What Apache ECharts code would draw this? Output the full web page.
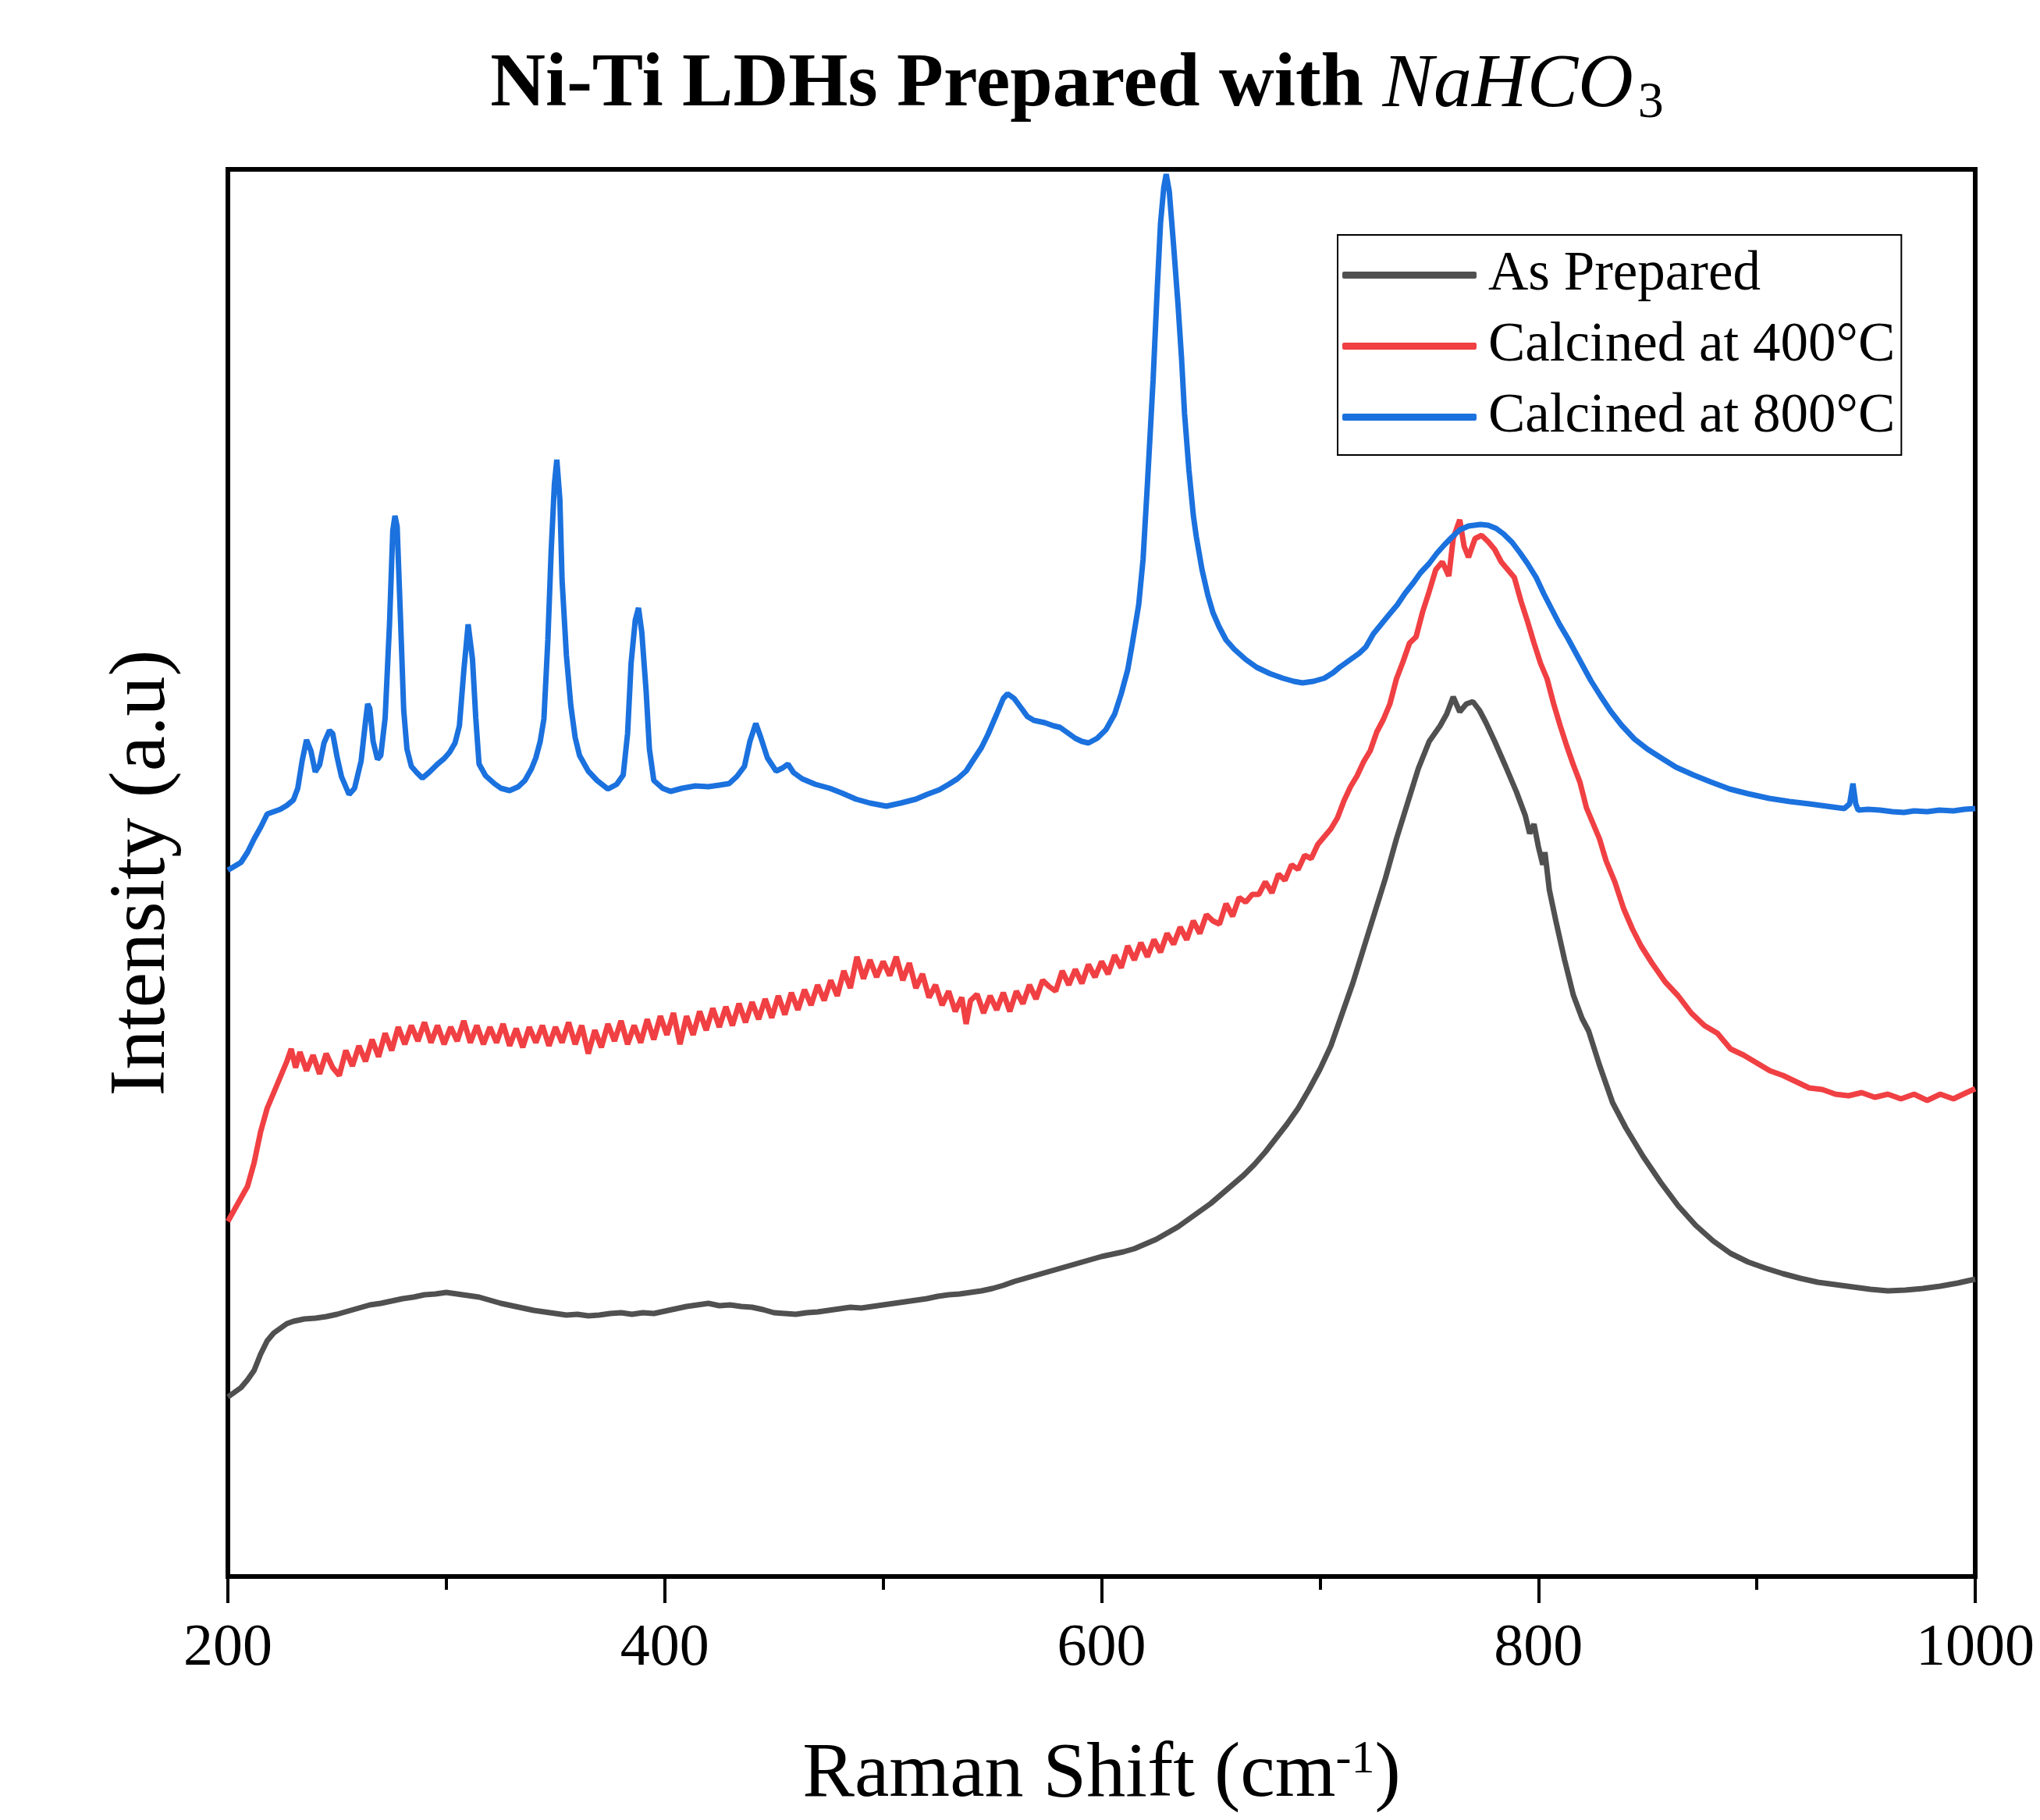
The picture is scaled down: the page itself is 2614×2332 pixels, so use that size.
<!DOCTYPE html>
<html>
<head>
<meta charset="utf-8">
<script src="https://cdn.jsdelivr.net/npm/echarts@6/dist/echarts.min.js"></script>
<style>
  html, body { margin: 0; padding: 0; background: #fff; }
  #chart { width: 2614px; height: 2332px; }
</style>
</head>
<body>
<div id="chart"></div>
<script>
// Raman shift (cm-1) and intensity (a.u.)
var seriesNames = ['As Prepared', 'Calcined at 400°C', 'Calcined at 800°C']
var xTicks = [200, 400, 600, 800, 1000]

var asPreparedX = [200,203,206,209,212,215,218,221,224,227,230,235,240,245,250,255,260,265,270,275,280,285,290,295,300,305,310,315,320,325,330,335,340,345,350,355,360,365,370,375,380,385,390,395,400,405,410,415,420,425,430,435,440,445,450,455,460,465,470,475,480,485,490,495,500,505,510,515,520,525,530,535,540,545,550,555,560,565,570,575,580,585,590,595,600,605,610,615,620,625,630,635,640,645,650,655,660,665,670,675,680,685,690,695,700,705,710,715,720,725,730,735,740,745,750,755,758,761,764,767,770,773,776,780,785,790,794,796,798,800,802,803,805,808,812,816,820,823,828,834,840,848,856,864,872,880,888,896,904,912,920,928,936,944,952,960,968,976,984,992,1000]
var asPreparedY = [230,236,242,252,264,285,302,312,318,324,327,330,331,333,336,340,344,348,350,353,356,358,361,362,364,362,360,358,354,350,347,344,341,339,337,335,336,334,335,337,338,336,338,337,340,343,346,348,350,347,348,346,345,342,338,337,336,338,339,341,343,345,344,346,348,350,352,354,356,359,361,362,364,366,369,373,378,382,386,390,394,398,402,406,410,413,416,420,426,432,440,448,458,468,478,490,502,514,528,544,562,580,600,624,650,680,720,760,805,850,895,945,990,1035,1070,1090,1105,1127,1108,1118,1121,1110,1094,1070,1038,1005,975,952,964,935,912,928,880,840,790,745,715,699,655,607,575,538,505,475,450,430,414,403,395,388,382,377,374,371,368,366,367,369,372,376,381]

var calc400X = [200,203,206,209,212,215,218,221,224,227,229,231,233,236,239,242,245,248,251,254,257,260,263,266,269,272,275,278,281,284,287,290,293,296,299,302,305,308,311,314,317,320,323,326,329,332,335,338,341,344,347,350,353,356,359,362,365,368,371,374,377,380,383,386,389,392,395,398,401,404,407,410,413,416,419,422,425,428,431,434,437,440,443,446,449,452,455,458,461,464,467,470,473,476,479,482,485,488,491,494,497,500,503,506,509,512,515,518,521,524,527,530,533,536,538,540,543,546,549,552,555,558,561,564,567,570,573,576,579,582,585,588,591,594,597,600,603,606,609,612,615,618,621,624,627,630,633,636,639,642,645,648,651,654,657,660,663,666,669,672,675,678,681,684,687,690,693,696,699,702,705,708,711,714,717,720,723,726,729,732,735,738,741,744,747,750,753,756,759,761,764,766,768,771,774,777,780,783,786,789,792,795,798,801,804,807,810,813,816,819,822,825,828,831,835,839,843,847,852,858,864,870,876,882,888,894,900,906,912,918,924,930,936,942,948,954,960,966,972,978,984,990,996,1000]
var calc400Y = [455,470,485,500,530,570,600,620,640,660,676,652,672,648,668,644,670,652,642,674,654,680,660,688,666,696,674,704,682,706,686,710,684,706,682,704,686,712,684,706,682,704,684,708,680,702,678,704,684,706,680,704,684,710,682,706,670,700,678,708,686,712,682,706,684,714,688,718,694,722,682,718,694,724,700,728,704,730,706,734,710,736,714,740,716,744,720,748,726,752,732,758,738,764,744,776,754,794,766,790,768,788,770,794,764,786,754,772,742,758,732,750,724,742,708,738,746,722,744,726,748,724,750,734,758,740,764,756,750,776,758,778,760,784,768,788,772,796,780,808,790,812,794,816,800,824,810,832,816,840,824,848,840,836,862,846,870,864,874,874,890,876,900,892,912,906,924,920,938,948,958,972,994,1012,1026,1044,1058,1082,1098,1118,1150,1172,1196,1204,1236,1262,1290,1300,1282,1330,1354,1320,1306,1330,1334,1326,1316,1300,1290,1280,1250,1224,1196,1170,1150,1118,1090,1064,1040,1018,985,965,945,917,890,856,830,808,786,762,744,722,706,696,676,668,658,648,642,634,626,624,618,616,620,614,618,612,618,610,618,612,620,625]

var calc800X = [200,203,206,209,212,215,218,221,224,227,230,232,234,236,238,240,242,244,246.5,248,250,252,255.5,258,261,263,264,265,266.5,268.5,270,272,274,275.5,276.5,277.5,279,280.5,282,284,286.5,289,292,296,299,301.5,304,306,308,310,312,313.5,315,318,322,325,329,333,336,339,341,343,344.7,346.5,348,349.5,350.6,352,353,355,357,359,361,365,369,374,378,381,383,384.6,386.5,388,389.5,391.5,393,395,399,402.7,408,414,420,425,429.5,433,436.5,439,441.7,444,447,451,454,456.4,459,463,469,475.5,481,487.6,494,501.5,508,515,520,525.7,530,534,538,541,545,548,552,555,557,560,563.7,566,569,574,578,581,585,588,591,594,598,602,606,609,612,614,617,619,621,623.6,625.5,627,628.5,629.6,631,633,635,636.6,638,640,642,643.4,646,648.7,651,653.8,657,660.8,666,671,677,683,688,692,697,702,706,709,713,718,721,724.5,728,731.5,735.4,739,742.7,746,750,753.5,757,760.5,764,768,773.5,777,780.6,784,788,791.5,795,799,802.5,806,809.7,813.5,817,820.5,824,828.5,833,838,844,850,856.7,863,871,879,887.6,896,905.7,915,924,932,940,942.5,944,945.3,946.4,951,956.4,962,967.4,972,978,983.6,990,995,1000]
var calc800Y = [905,910,915,928,945,960,977,980,983,988,995,1010,1045,1072,1058,1031,1040,1068,1084,1080,1050,1025,1002,1010,1045,1095,1118,1112,1070,1047,1052,1100,1220,1340,1359,1345,1230,1110,1060,1038,1030,1023,1030,1041,1048,1056,1068,1090,1160,1220,1175,1100,1041,1026,1016,1010,1007,1012,1020,1035,1049,1070,1099,1200,1313,1400,1431,1380,1277,1180,1116,1075,1052,1032,1020,1009,1015,1027,1080,1170,1225,1241,1210,1134,1060,1020,1010,1006,1010,1013,1012,1014,1016,1025,1038,1070,1093,1075,1049,1032,1036,1041,1030,1022,1015,1010,1004,996,991,987,991,996,1002,1008,1015,1022,1032,1045,1062,1079,1105,1125,1131,1125,1111,1102,1097,1094,1090,1088,1080,1074,1070,1068,1074,1085,1105,1131,1162,1194,1245,1303,1400,1533,1650,1734,1780,1797,1775,1705,1630,1562,1490,1418,1360,1332,1290,1257,1235,1217,1200,1188,1175,1165,1157,1151,1147,1145,1147,1151,1158,1165,1173,1183,1191,1208,1220,1232,1245,1260,1273,1286,1298,1311,1322,1332,1341,1346,1348,1347,1343,1336,1325,1312,1298,1280,1259,1240,1220,1202,1184,1166,1148,1128,1109,1091,1073,1060,1048,1037,1027,1018,1009,1003,997,993,990,987,984,990,1016,990,982,983,982,980,979,981,980,982,981,983,984]

var lineColors = ['#505050', '#F04043', '#1B71DE']

function zip(xs, ys) {
  return xs.map(function (x, i) { return [x, ys[i]] })
}

var chart = echarts.init(document.getElementById('chart'))

var option = {
  backgroundColor: '#fff',
  animation: false,
  color: lineColors,
  graphic: [{
    type: 'text',
    x: 1380,
    y: 110,
    style: {
      text: '{b|Ni-Ti LDHs Prepared with }{i|NaHCO}{s|3}',
      textAlign: 'center',
      textVerticalAlign: 'middle',
      rich: {
        b: { fontFamily: 'Liberation Serif', fontWeight: 'bold', fontSize: 98, lineHeight: 112, fill: '#000' },
        i: { fontFamily: 'Liberation Serif', fontStyle: 'italic', fontSize: 98, lineHeight: 112, fill: '#000' },
        s: { fontFamily: 'Liberation Serif', fontSize: 66, lineHeight: 112, verticalAlign: 'bottom', padding: [0, 0, 0, 6], fill: '#000' }
      }
    }
  }],
  legend: {
    data: seriesNames,
    orient: 'vertical',
    left: 1714,
    top: 301,
    padding: [16, 8, 13, 6],
    borderColor: '#000',
    borderWidth: 2,
    icon: 'roundRect',
    itemWidth: 172,
    itemHeight: 9,
    itemGap: 20,
    textStyle: {
      fontFamily: 'Liberation Serif',
      fontSize: 71,
      color: '#000',
      padding: [0, 0, 0, 10]
    }
  },
  grid: {
    left: 292,
    right: 83,
    top: 217,
    bottom: 312,
    show: true,
    borderColor: '#000',
    borderWidth: 6
  },
  xAxis: {
    type: 'value',
    min: xTicks[0],
    max: xTicks[xTicks.length - 1],
    interval: 200,
    name: 'Raman Shift (cm{sup|-1})',
    nameLocation: 'middle',
    nameGap: 205,
    nameTextStyle: {
      fontFamily: 'Liberation Serif',
      fontSize: 100,
      color: '#000',
      rich: {
        sup: { fontFamily: 'Liberation Serif', fontSize: 60, verticalAlign: 'top', color: '#000' }
      }
    },
    axisLine: { show: true, onZero: false, lineStyle: { color: '#000', width: 6 } },
    axisTick: { show: true, inside: false, length: 34, lineStyle: { color: '#000', width: 4 } },
    minorTick: { show: true, splitNumber: 2, length: 17, lineStyle: { color: '#000', width: 4 } },
    axisLabel: {
      fontFamily: 'Liberation Serif',
      fontSize: 76,
      color: '#000',
      margin: 55,
      formatter: function (v) { return String(v) }
    },
    splitLine: { show: false }
  },
  yAxis: {
    type: 'value',
    min: 0,
    max: 1803,
    name: 'Intensity (a.u)',
    nameLocation: 'middle',
    nameGap: 58,
    nameTextStyle: { fontFamily: 'Liberation Serif', fontSize: 102, color: '#000' },
    axisLine: { show: true, lineStyle: { color: '#000', width: 6 } },
    axisTick: { show: false },
    axisLabel: { show: false },
    splitLine: { show: false }
  },
  series: [
    {
      name: seriesNames[0],
      type: 'line',
      data: zip(asPreparedX, asPreparedY),
      showSymbol: false,
      symbol: 'none',
      lineStyle: { color: lineColors[0], width: 7 },
      itemStyle: { color: lineColors[0] }
    },
    {
      name: seriesNames[1],
      type: 'line',
      data: zip(calc400X, calc400Y),
      showSymbol: false,
      symbol: 'none',
      lineStyle: { color: lineColors[1], width: 7 },
      itemStyle: { color: lineColors[1] }
    },
    {
      name: seriesNames[2],
      type: 'line',
      data: zip(calc800X, calc800Y),
      showSymbol: false,
      symbol: 'none',
      lineStyle: { color: lineColors[2], width: 7 },
      itemStyle: { color: lineColors[2] }
    }
  ]
}

chart.setOption(option)
</script>
</body>
</html>
